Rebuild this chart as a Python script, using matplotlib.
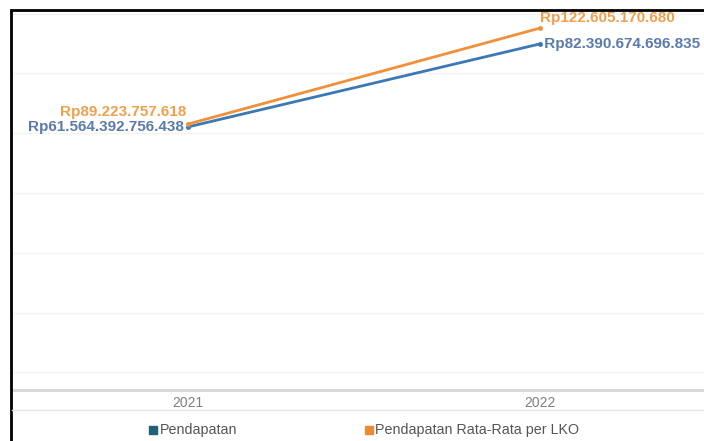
import matplotlib.pyplot as plt
from matplotlib.patches import Rectangle

# Data
tahun = ["2021", "2022"]
pendapatan = [61564392756438, 82390674696835]
rata_lko = [89223757618, 122605170680]
label_pendapatan = ["Rp61.564.392.756.438", "Rp82.390.674.696.835"]
label_rata = ["Rp89.223.757.618", "Rp122.605.170.680"]

biru = "#3b78b6"
oranye = "#f0913a"
teks_biru = "#5a7bab"
teks_oranye = "#eda050"

plt.rcParams['font.family'] = ['Liberation Sans', 'DejaVu Sans']

W, H = 704, 441
fig = plt.figure(figsize=(W / 100, H / 100), dpi=100)
ax = fig.add_axes([12 / W, 51 / H, 692 / W, 380 / H])
ax2 = ax.twinx()

x = range(len(tahun))
ax.plot(x, [v / 1e12 for v in pendapatan], color=biru, lw=2, marker="o", ms=2.5, zorder=3)
ax2.plot(x, [v / 1e9 for v in rata_lko], color=oranye, lw=2, marker="o", ms=2.5, zorder=3)

ax.set_xlim(-0.5, 1.466)
ax.set_ylim(-4.44, 90.9)
ax2.set_ylim(-3.27, 128.9)

# Label nilai
ax.text(0, pendapatan[0] / 1e12, label_pendapatan[0] + " ", ha="right", va="center",
        color=teks_biru, fontsize=11, fontweight="bold")
ax.text(1, pendapatan[1] / 1e12, " " + label_pendapatan[1], ha="left", va="center",
        color=teks_biru, fontsize=11, fontweight="bold")
ax2.annotate(label_rata[0], (0, rata_lko[0] / 1e9), xytext=(-1, 9), textcoords="offset points",
             ha="right", va="center", color=teks_oranye, fontsize=11, fontweight="bold")
ax2.annotate(label_rata[1], (1, rata_lko[1] / 1e9), xytext=(0, 7.5), textcoords="offset points",
             ha="left", va="center", color=teks_oranye, fontsize=11, fontweight="bold")

# Grid dan sumbu
ax.set_yticks([0, 15, 30, 45, 60, 75, 90])
ax.grid(axis="y", color="#f3f3f3", lw=1)
ax.tick_params(axis="y", left=False, labelleft=False)
ax2.tick_params(axis="y", right=False, labelright=False)
ax.set_xticks(list(x))
ax.set_xticklabels(tahun, color="#808080", fontsize=10)
ax.tick_params(axis="x", length=0, pad=4)
for a in (ax, ax2):
    for s in ("top", "right", "left", "bottom"):
        a.spines[s].set_visible(False)
ax.spines["bottom"].set_visible(True)
ax.spines["bottom"].set_color("#d6d6d6")
ax.spines["bottom"].set_linewidth(2)
fig.add_artist(plt.Line2D([12 / W, 1], [1 - 410 / H] * 2, color="#e6e6e6", lw=1))

# Legenda
fig.add_artist(Rectangle((149 / W, 1 - 434 / H), 8 / W, 8 / H, color="#1f607a"))
fig.text(160 / W, 1 - 430 / H, "Pendapatan", va="center", fontsize=10.3, color="#555555")
fig.add_artist(Rectangle((365 / W, 1 - 434 / H), 8 / W, 8 / H, color="#ee8a30"))
fig.text(375 / W, 1 - 430 / H, "Pendapatan Rata-Rata per LKO", va="center", fontsize=10.3, color="#555555")

# Bingkai
fig.add_artist(Rectangle((11 / W, -0.1), 1.2, 1.1 - 10 / H, fill=False, ec="black", lw=2))

fig.savefig("out.png", dpi=100)
